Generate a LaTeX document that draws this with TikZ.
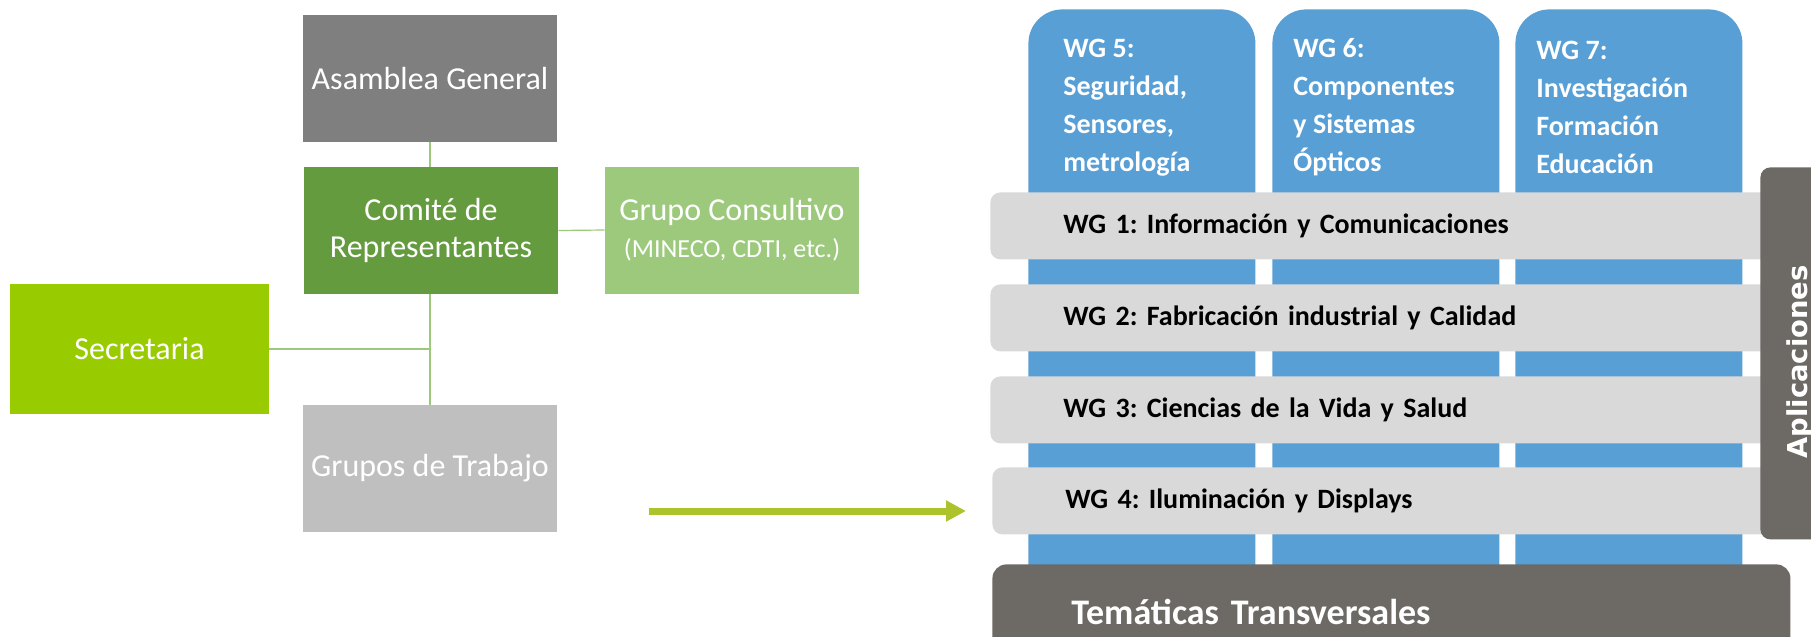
\documentclass[tikz,border=0pt]{standalone}
\usepackage{fontspec}
\setmainfont{Carlito}
\newfontfamily\verdfont{DejaVu Sans}
\usetikzlibrary{positioning,arrows.meta}
\definecolor{grisAG}{HTML}{7F7F7F}
\definecolor{verdeCR}{HTML}{659B3F}
\definecolor{verdeGC}{HTML}{9CC97C}
\definecolor{verdeSec}{HTML}{99CC00}
\definecolor{grisGT}{HTML}{BFBFBF}
\definecolor{flechaV}{HTML}{ADC32C}
\definecolor{azulWG}{HTML}{589FD5}
\definecolor{grisWG}{HTML}{D9D9D9}
\definecolor{grisOsc}{HTML}{6D6A66}
\frenchspacing
\begin{document}
\begin{tikzpicture}[x=0.5pt,y=-0.5pt,
  orgbox/.style={minimum width=127pt,minimum height=63.5pt,inner sep=0pt,text=white,align=center,
    font=\fontsize{16}{18.5}\selectfont},
  enlace/.style={draw=verdeGC,line width=0.6pt},
  columna/.style={fill=azulWG,minimum width=113.5pt,minimum height=300pt,rounded corners=17pt,anchor=north west},
  coltexto/.style={text=white,align=left,inner sep=0pt,anchor=base west,font=\bfseries\fontsize{14}{19}\selectfont},
  barra/.style={fill=grisWG,rounded corners=5pt,minimum height=33.5pt,text width=322pt,inner xsep=36.5pt,
    inner ysep=0pt,align=left,anchor=north west,font=\bfseries\fontsize{14}{17}\selectfont}]
\useasboundingbox (0,0) rectangle (1811,637);
% organigrama
\node[orgbox,fill=grisAG] (asamblea) at (430,78.5) {Asamblea General};
\node[orgbox,fill=verdeCR] (comite) at (431,230.5) {Comité de\\Representantes};
\node[orgbox,fill=verdeGC] (consultivo) at (732,230) {Grupo Consultivo\\{\fontsize{13}{15}\selectfont(MINECO, CDTI, etc.)}};
\node[orgbox,fill=verdeSec,minimum width=129.5pt,minimum height=65pt] (secretaria) at (139.5,349) {Secretaria};
\node[orgbox,fill=grisGT] (grupos) at (430,468.5) {Grupos de Trabajo};
\draw[enlace] (asamblea.south) -- (asamblea.south |- comite.north);
\draw[enlace] (comite.east) -- (consultivo.west);
\draw[enlace] (asamblea.south |- comite.south) -- (grupos.north);
\draw[enlace] (secretaria.east) -- (secretaria.east -| grupos.north);
% flecha
\coordinate (flechaIni) at (649,511);
\coordinate (flechaFin) at (966,511);
\draw[flechaV,line width=3.5pt,-{Triangle[length=10pt,width=10pt]}] (flechaIni) -- (flechaFin);
% grupos de trabajo
\node[columna] (wg5) at (1028,9) {};
\node[columna] (wg6) at (1272,9) {};
\node[columna] (wg7) at (1515,9) {};
\node[coltexto] at (1063,171) {WG 5:\\Seguridad,\\Sensores,\\metrología};
\node[coltexto] at (1293,171) {WG 6:\\Componentes\\y Sistemas\\Ópticos};
\node[coltexto] at (1536,173) {WG 7:\\Investigación\\Formación\\Educación};
\node[barra] (wg1) at (990,192) {WG 1: Información y Comunicaciones};
\node[barra] (wg2) at (990,284) {WG 2: Fabricación industrial y Calidad};
\node[barra] (wg3) at (990,376) {WG 3: Ciencias de la Vida y Salud};
\node[barra] (wg4) at (992,467) {WG 4: Iluminación y Displays};
\node[fill=grisOsc,rounded corners=5pt,minimum width=45pt,minimum height=186pt,inner sep=0pt,anchor=north west] (aplic) at (1760,167) {};
\node[text=white,rotate=90,anchor=base,inner sep=0pt,font=\verdfont\bfseries\fontsize{13.7}{16}\selectfont] at (1807,362) {Aplicaciones};
\node[fill=grisOsc,rounded corners=7pt,minimum height=48pt,text width=320pt,inner xsep=39.5pt,inner ysep=0pt,
  align=left,anchor=north west,text=white,font=\bfseries\fontsize{18}{21}\selectfont] (transv) at (992,564) {Temáticas Transversales};
\end{tikzpicture}
\end{document}
